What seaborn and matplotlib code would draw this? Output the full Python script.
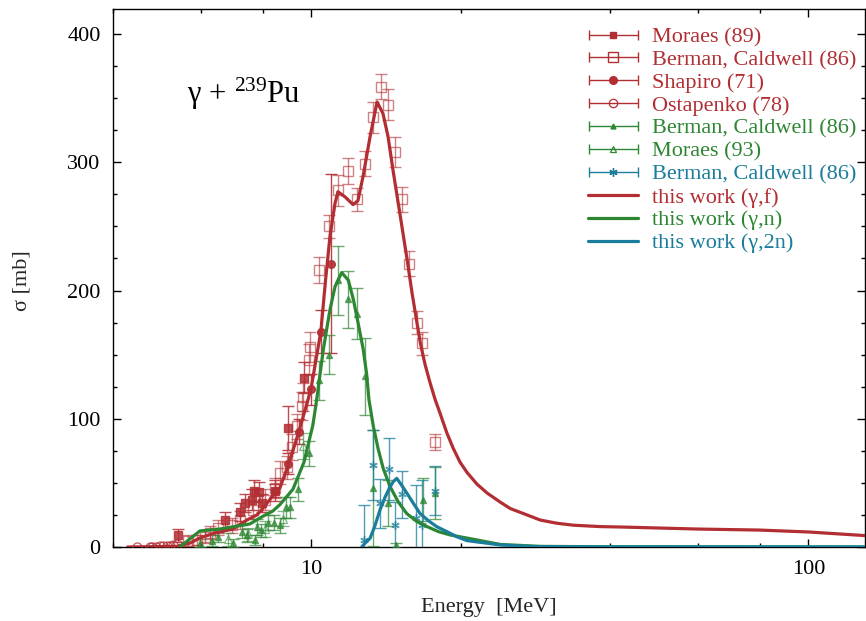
import numpy as np
import matplotlib
matplotlib.use("Agg")
import matplotlib.pyplot as plt
from matplotlib.ticker import FixedLocator, FixedFormatter, NullFormatter, MultipleLocator
from matplotlib.container import ErrorbarContainer
from matplotlib.legend_handler import HandlerErrorbar
from matplotlib.collections import LineCollection
from matplotlib.lines import Line2D
import seaborn as sns

# ---------------- data ----------------
# model curves: photon energy [MeV] and cross section [mb]
fis_E = [4.28, 5.37, 5.71, 5.98, 6.41, 6.97, 7.43, 7.79, 8.08, 8.46, 8.66, 8.99, 9.46, 10.0,
         10.47, 10.70, 10.92, 11.18, 11.33, 11.71, 12.15, 12.43, 12.73, 13.15, 13.58, 13.96,
         14.29, 14.62, 15.11, 15.61, 15.97, 16.35, 16.58, 16.81, 16.97, 17.36, 17.77, 18.19,
         18.76, 19.32, 19.95, 20.61, 21.57, 22.62, 24.02, 25.16, 27.19, 28.92, 31.25, 33.70,
         38.19, 41.90, 59.90, 79.83, 100.2, 129.9]
fis_sig = [0, 0.5, 3, 7, 11, 14, 21, 25, 32, 42, 46, 63, 90, 123,
           168, 208, 242, 268, 277, 273, 267, 270, 289, 320, 347, 338,
           320, 294, 259, 224, 198, 174, 160, 149, 142, 128, 115, 104,
           89, 77, 66, 58, 49, 42, 35, 30, 25, 21, 18.5, 17,
           15.9, 15.6, 14, 13.2, 11.7, 8.9]

n_E = [5.45, 5.98, 6.56, 7.54, 8.01, 8.38, 8.66, 9.20, 9.68, 10.09, 10.27, 10.59, 10.92,
       11.18, 11.53, 11.89, 12.17, 12.45, 12.74, 12.94, 13.08, 13.35, 13.66, 13.98, 14.43,
       14.99, 15.59, 16.32, 17.10, 18.04, 19.05, 20.90, 24.02, 28.92, 38.19, 129.9]
n_sig = [0, 12.5, 14, 18, 24, 28, 33, 45, 66, 95, 115, 154, 185,
         203, 214, 208, 193, 174, 154, 135, 115, 94, 76, 61, 47,
         35, 26, 20, 16, 12, 9.4, 6.5, 2, 0.5, 0.2, 0]

n2_E = [12.65, 12.84, 13.15, 13.46, 13.77, 14.10, 14.43, 14.64, 14.88, 15.23, 15.59, 16.07,
        16.58, 17.23, 17.91, 18.76, 19.65, 20.58, 24.02, 27.99, 40.0, 129.9]
n2_sig = [0, 2.9, 6.8, 17, 29, 39, 47, 51, 53.5, 48, 42, 34,
          26, 20.5, 15.8, 12, 8, 5, 1.6, 0.3, 0.05, 0]

# measurements (gamma,f)
moraes89_E = [5.40, 6.71, 7.19, 7.36, 7.61, 7.68, 7.86, 7.97, 8.46, 8.99, 9.68]
moraes89_sig = [9, 21, 27, 34, 37, 44, 43, 34, 44, 93, 132]
moraes89_err = [5, 6, 7, 7, 8, 8, 8, 7, 8, 17, 12]

bermanf_E = [5.65, 5.89, 6.12, 6.26, 6.50, 6.93, 7.19, 7.64, 8.08, 8.46, 8.66, 8.95, 9.16,
             9.37, 9.59, 9.63, 9.91, 9.95, 10.38, 10.87, 11.33, 11.87, 12.37, 12.84, 13.33,
             13.83, 14.29, 14.77, 15.25, 15.75, 16.34, 16.73, 17.78]
bermanf_sig = [5, 5.5, 8, 11, 15, 17, 21, 29, 37, 46, 58, 62, 78,
               94, 110, 117, 146, 156, 216, 250, 278, 293, 271, 299, 335,
               359, 345, 308, 271, 221, 175, 159, 82]
bermanf_err = [4, 4, 5, 5, 6, 6, 7, 7, 8, 8, 9, 9, 10,
               10, 11, 11, 12, 12, 10, 9, 12, 10, 9, 10, 12,
               10, 12, 12, 10, 10, 9, 9, 6]

shapiro_E = [8.46, 8.99, 9.48, 10.0, 10.47, 10.99]
shapiro_sig = [44, 65, 90, 123, 168, 221]
shapiro_err = [5, 8, 10, 12, 17, 70]

ostap_E = [4.48, 4.74, 4.80, 4.89, 4.97, 5.04, 5.13, 5.20, 5.28, 5.37]
ostap_sig = [0.1, 0.2, 0.2, 0.3, 0.4, 0.5, 0.7, 1.0, 1.3, 2.0]

# measurements (gamma,n)
bermann_E = [5.98, 6.32, 6.50, 6.97, 7.26, 7.43, 7.71, 7.79, 7.93, 8.19, 8.42, 8.66, 8.91,
             9.07, 9.42, 9.91, 10.38, 10.87, 11.33, 11.87, 12.37, 12.84, 13.33, 14.29,
             14.84, 16.81, 17.78]
bermann_sig = [3, 5, 8, 3, 12, 9, 5.5, 15.6, 13, 19, 19, 17, 31,
               31, 45, 73, 130, 150, 208, 193, 182, 133, 46, 34,
               1.5, 37, 42]
bermann_err = [3, 4, 4, 3, 5, 5, 4, 6, 5, 6, 6, 6, 8,
               8, 9, 10, 15, 15, 27, 22, 20, 30, 45, 18,
               2, 17, 20]

moraes93_E = [6.81, 7.47, 8.08, 8.77, 9.63]
moraes93_sig = [6, 10, 14, 22, 79]
moraes93_err = [5, 5, 6, 6, 10]

# measurements (gamma,2n)
berman2n_E = [12.79, 13.33, 13.77, 14.36, 14.77, 15.25, 16.27, 16.73, 17.78]
berman2n_sig = [5.5, 64, 34, 61, 17, 41, 23, 17, 44]
berman2n_err = [27, 27, 19, 24, 18, 18, 25, 35, 19]

x_ticks = [10, 100]
x_tick_labels = ["10", "100"]
x_minor = [4, 6, 8, 20, 40, 60, 80]
y_ticks = [0, 100, 200, 300, 400]

RED = "#b22e33"
GREEN = "#2d8732"
TEAL = "#1a7d9b"
ASTERISK = (6, 2, 0)

# ---------------- style ----------------
sns.set_theme(style="ticks")
plt.rcParams["font.family"] = ["Liberation Serif", "DejaVu Serif"]
plt.rcParams["mathtext.fontset"] = "stix"
plt.rcParams["axes.linewidth"] = 1.0

fig = plt.figure(figsize=(8.66, 6.21), dpi=100)
ax = fig.add_axes([113 / 866, 74 / 621, 752 / 866, 538 / 621])

ax.set_xscale("log")
ax.set_xlim(4.0, 130)
ax.set_ylim(0, 419.5)

eb_kw = dict(ls="none", elinewidth=1.0, capsize=4, capthick=1.0, zorder=3)

ax.errorbar(moraes89_E, moraes89_sig, yerr=moraes89_err, marker="s", color=RED,
            ms=5.5, alpha=0.85, **eb_kw)
ax.errorbar(bermanf_E, bermanf_sig, yerr=bermanf_err, marker="s", color=RED, mfc="none",
            mec=RED, ms=7, mew=1.0, alpha=0.6, **eb_kw)
ax.errorbar(shapiro_E, shapiro_sig, yerr=shapiro_err, marker="o", color=RED,
            ms=5.5, alpha=0.9, **eb_kw)
ax.errorbar(ostap_E, ostap_sig, marker="o", color=RED, mfc="none", mec=RED,
            ms=6.5, mew=0.9, alpha=0.8, **eb_kw)
ax.errorbar(bermann_E, bermann_sig, yerr=bermann_err, marker="^", color=GREEN,
            ms=4, alpha=0.7, **eb_kw)
ax.errorbar(moraes93_E, moraes93_sig, yerr=moraes93_err, marker="^", color=GREEN, mfc="none",
            mec=GREEN, ms=5.5, mew=0.9, alpha=0.6, **eb_kw)
ax.errorbar(berman2n_E, berman2n_sig, yerr=berman2n_err, marker=ASTERISK, color=TEAL,
            ms=6, mew=1.0, alpha=0.75, **eb_kw)

# model curves
sns.lineplot(x=fis_E, y=fis_sig, ax=ax, color=RED, lw=2.3, sort=False, estimator=None, zorder=5)
sns.lineplot(x=n_E, y=n_sig, ax=ax, color=GREEN, lw=2.3, sort=False, estimator=None, zorder=5)
sns.lineplot(x=n2_E, y=n2_sig, ax=ax, color=TEAL, lw=2.3, sort=False, estimator=None, zorder=6)

# ticks
ax.xaxis.set_major_locator(FixedLocator(x_ticks))
ax.xaxis.set_major_formatter(FixedFormatter(x_tick_labels))
ax.xaxis.set_minor_locator(FixedLocator(x_minor))
ax.xaxis.set_minor_formatter(NullFormatter())
ax.yaxis.set_major_locator(FixedLocator(y_ticks))
ax.yaxis.set_minor_locator(MultipleLocator(25))
ax.tick_params(which="both", direction="in", top=True, right=True, colors="black",
               labelsize=16, width=1.0)
ax.tick_params(which="major", length=6, pad=9)
ax.tick_params(which="minor", length=3)
for sp in ax.spines.values():
    sp.set_color("black")

ax.set_xlabel("Energy  [MeV]", fontsize=16)
ax.set_ylabel("σ [mb]", fontsize=16)
ax.xaxis.set_label_coords(0.5, -0.094)
ax.yaxis.set_label_coords(-0.109, 0.496)

ax.text(0.098, 0.825, r"$\mathregular{γ\,+\,{}^{239}Pu}$", transform=ax.transAxes,
        fontsize=22, ha="left", va="baseline", color="black")

# legend with horizontal error-bar samples
def proxy_full(marker, color, **kw):
    line = Line2D([], [], ls="none", marker=marker, color=color, **kw)
    cap_l = Line2D([], [], ls="none", marker="|", color=color, ms=7, mew=1.0)
    cap_r = Line2D([], [], ls="none", marker="|", color=color, ms=7, mew=1.0)
    bar = LineCollection([], colors=color, linewidths=1.0)
    return ErrorbarContainer((line, (cap_l, cap_r), (bar,)), has_xerr=True, has_yerr=False)

handles = [
    proxy_full("s", RED, ms=5),
    proxy_full("s", RED, mfc="none", ms=6.5, mew=1.0),
    proxy_full("o", RED, ms=5.5),
    proxy_full("o", RED, mfc="none", ms=6, mew=0.9),
    proxy_full("^", GREEN, ms=3.5),
    proxy_full("^", GREEN, mfc="none", ms=5, mew=0.9),
    proxy_full(ASTERISK, TEAL, ms=6, mew=1.0),
    Line2D([], [], color=RED, lw=2.3),
    Line2D([], [], color=GREEN, lw=2.3),
    Line2D([], [], color=TEAL, lw=2.3),
]
labels = ["Moraes (89)", "Berman, Caldwell (86)", "Shapiro (71)", "Ostapenko (78)",
          "Berman, Caldwell (86)", "Moraes (93)", "Berman, Caldwell (86)",
          "this work (γ,f)", "this work (γ,n)", "this work (γ,2n)"]
label_colors = [RED, RED, RED, RED, GREEN, GREEN, TEAL, RED, GREEN, TEAL]

leg = ax.legend(handles, labels, loc="upper left", bbox_to_anchor=(0.632, 0.967),
                frameon=False, fontsize=16, handlelength=2.25, handletextpad=0.62,
                labelspacing=0.105, borderpad=0, borderaxespad=0,
                handler_map={ErrorbarContainer: HandlerErrorbar(xerr_size=1.1, numpoints=1)})
for t, c in zip(leg.get_texts(), label_colors):
    t.set_color(c)

fig.savefig("out.png", dpi=100)
